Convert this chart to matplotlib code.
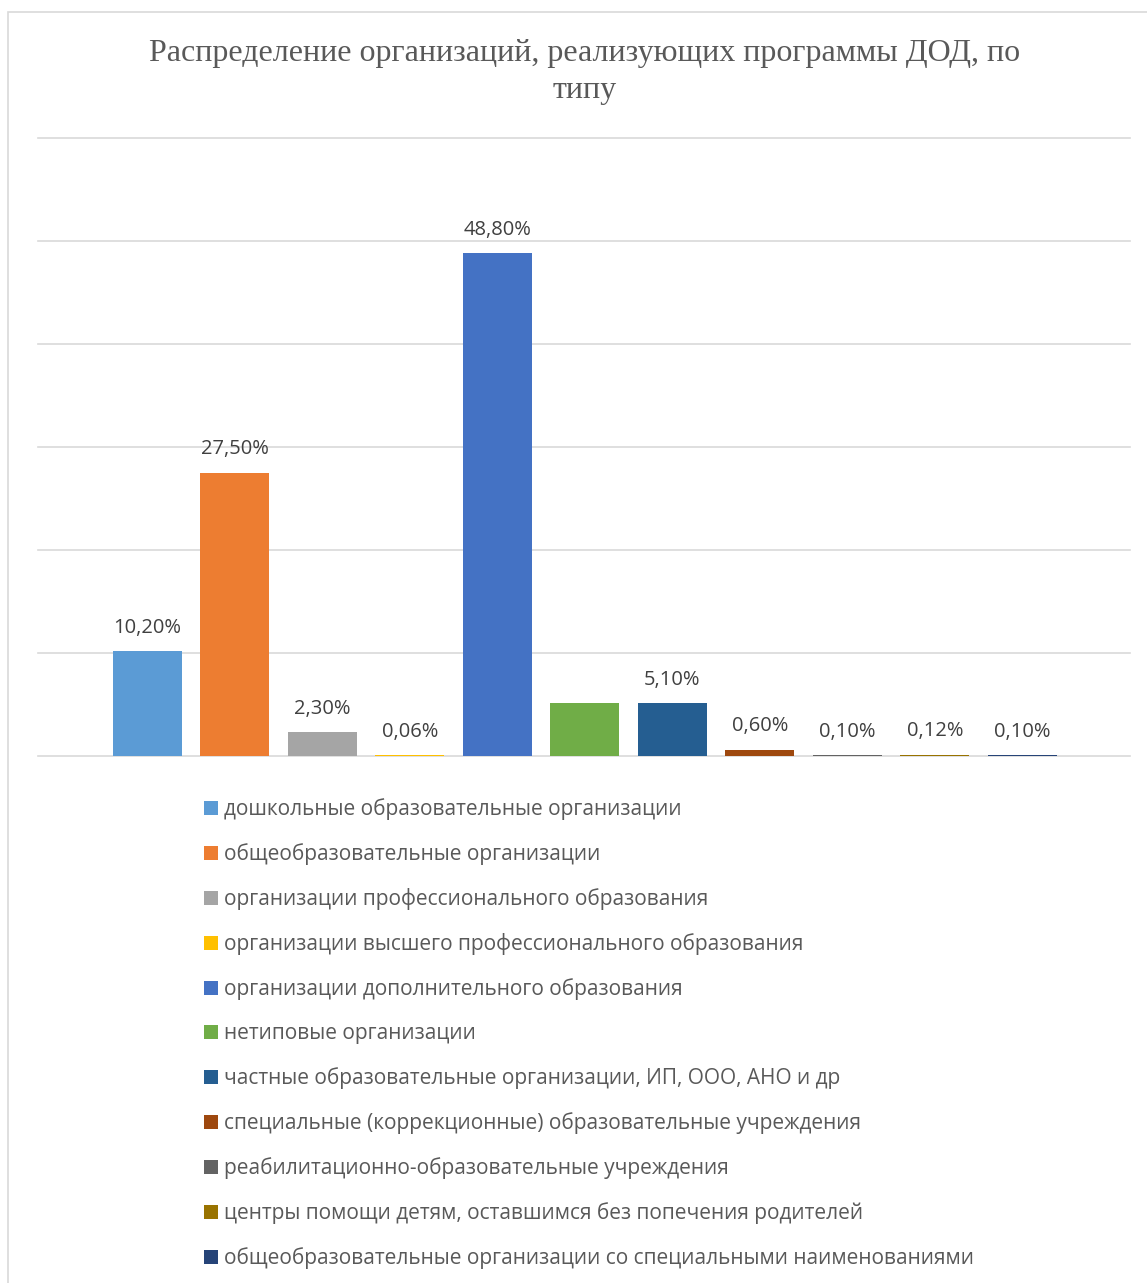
import matplotlib
matplotlib.use("Agg")
import matplotlib.pyplot as plt
from matplotlib.patches import Rectangle

categories = [
    "дошкольные образовательные организации",
    "общеобразовательные организации",
    "организации профессионального образования",
    "организации высшего профессионального образования",
    "организации дополнительного образования",
    "нетиповые организации",
    "частные образовательные организации, ИП, ООО, АНО и др",
    "специальные (коррекционные) образовательные учреждения",
    "реабилитационно-образовательные учреждения",
    "центры помощи детям, оставшимся без попечения родителей",
    "общеобразовательные организации со специальными наименованиями",
]
values = [10.20, 27.50, 2.30, 0.06, 48.80, 5.10, 5.10, 0.60, 0.10, 0.12, 0.10]
show_label = [True, True, True, True, True, False, True, True, True, True, True]
colors = ["#5B9BD5", "#ED7D31", "#A5A5A5", "#FFC000", "#4472C4", "#70AD47",
          "#255E91", "#9E480E", "#636363", "#997300", "#264478"]
yticks = [0, 10, 20, 30, 40, 50, 60]
title = "Распределение организаций, реализующих программы ДОД, по\nтипу"

W, H = 1147, 1283
fig = plt.figure(figsize=(W / 100, H / 100), dpi=100)
fig.patch.set_facecolor("white")

# outer chart frame
fig.add_artist(Rectangle((8 / W, -0.05), 1.2, (H - 12) / H + 0.05,
                         transform=fig.transFigure, fill=False,
                         edgecolor="#D9D9D9", linewidth=1.2))

left, right = 38 / W, 1130 / W
bottom, top = (H - 756) / H, (H - 138) / H
ax = fig.add_axes([left, bottom, right - left, top - bottom])

x = list(range(len(values)))
bars = ax.bar(x, values, width=0.79, color=colors, zorder=3)

ax.set_xlim(-1.25, 11.23)
ax.set_ylim(0, 60)
ax.set_yticks(yticks)
ax.yaxis.grid(True, color="#D9D9D9", linewidth=1.2, zorder=0)
ax.set_axisbelow(True)
for gl in ax.get_ygridlines():
    gl.set_clip_on(False)
ax.tick_params(left=False, bottom=False, labelleft=False, labelbottom=False)
ax.set_xticks([])
for s in ax.spines.values():
    s.set_visible(False)

for xi, v, sh in zip(x, values, show_label):
    if sh:
        lab = f"{v:.2f}%".replace(".", ",")
        ax.annotate(lab, (xi, v), xytext=(0, 16.8), textcoords="offset points",
                    ha="center", va="center", fontsize=14.5,
                    family="Open Sans", color="#404040")

fig.text(585 / W, (H - 72) / H, title, ha="center", va="center",
         family="Liberation Serif", fontsize=23, color="#595959",
         linespacing=1.38)

leg = fig.legend(handles=list(bars.patches), labels=categories,
                 loc="upper left", bbox_to_anchor=(204 / W, (H - 798) / H),
                 frameon=False, prop={"family": "Open Sans", "size": 15},
                 labelcolor="#595959", handlelength=0.65, handleheight=0.65,
                 handletextpad=0.3, labelspacing=1.11, borderpad=0,
                 borderaxespad=0)

fig.savefig("out.png", dpi=100)
